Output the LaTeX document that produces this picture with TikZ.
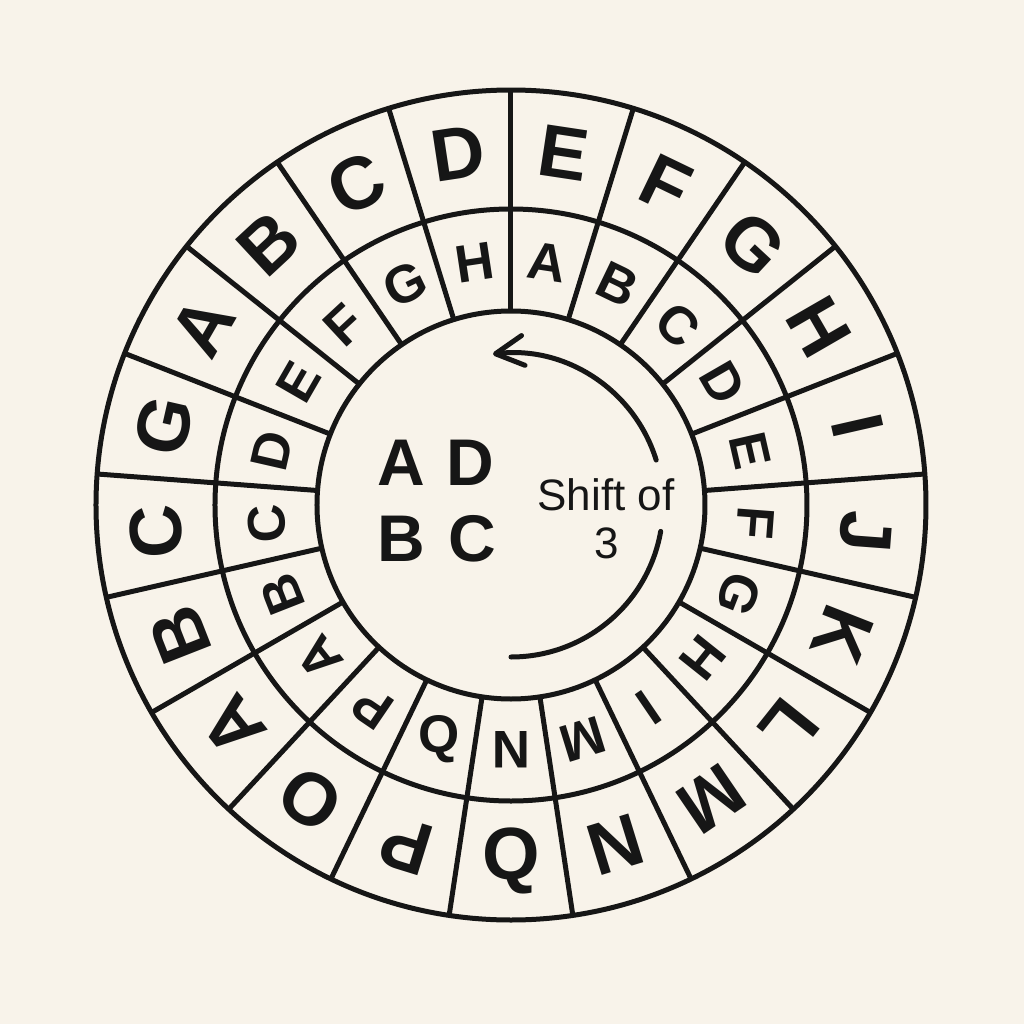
\documentclass[tikz,border=0pt]{standalone}
\usepackage{fontspec}
\setmainfont{Liberation Sans}
\usetikzlibrary{arrows.meta}
\definecolor{bg}{RGB}{248,243,234}
\definecolor{ink}{RGB}{22,22,22}
\begin{document}
\begin{tikzpicture}[x=0.5pt,y=0.5pt,
  ringline/.style={draw=ink,line width=2.5pt},
  outerletter/.style={font=\fontsize{37}{37}\selectfont\bfseries,text=ink,inner sep=0pt},
  innerletter/.style={font=\fontsize{26.5}{26.5}\selectfont\bfseries,text=ink,inner sep=0pt},
  centerletter/.style={font=\fontsize{33}{33}\selectfont\bfseries,text=ink,inner sep=0pt},
  shifttext/.style={font=\fontsize{22}{22}\selectfont,text=ink,inner sep=0pt}]
\fill[bg] (-511,-519) rectangle (513,505);
\useasboundingbox (-511,-519) rectangle (513,505);
% rings
\draw[ringline] (0,0) circle[radius=415];
\draw[ringline] (0,0) circle[radius=296];
\draw[ringline] (0,0) circle[radius=194];
% radial dividers
\foreach \k in {0,...,20} {
  \draw[ringline] ({90-\k*360/21}:194) -- ({90-\k*360/21}:415);
}
% outer ring letters
\foreach \L [count=\k from 0] in {E,F,G,H,I,J,K,L,M,N,Q,P,O,A,B,C,G,A,B,C,D} {
  \pgfmathsetmacro\t{90-(\k+0.5)*360/21}
  \pgfmathsetmacro\r{\k==10 ? 0 : \t-90}
  \node[outerletter, rotate=\r] (o\k) at (\t:356) {\L};
}
% inner ring letters
\foreach \L [count=\k from 0] in {A,B,C,D,E,F,G,H,I,M,N,Q,P,A,B,C,D,E,F,G,H} {
  \pgfmathsetmacro\t{90-(\k+0.5)*360/21}
  \pgfmathsetmacro\r{\k==11 ? 0 : \t-90}
  \node[innerletter, rotate=\r] (i\k) at (\t:245) {\L};
}
% centre
\node[centerletter] (cA) at (-110,42) {A};
\node[centerletter] (cD) at (-41,42) {D};
\node[centerletter] (cB) at (-110,-34) {B};
\node[centerletter] (cC) at (-39,-34) {C};
\node[shifttext] (shift) at (95,10) {Shift of};
\node[shifttext] (three) at (96,-38) {3};
% shift arrow
\draw[ringline, line cap=round] (-90:152) arc[start angle=-90, end angle=-10, radius=152];
\draw[ringline, line cap=round, -{Straight Barb[length=14pt,width=15pt,round]}] (17.2:152) arc[start angle=17.2, end angle=96.8, radius=152];
\end{tikzpicture}
\end{document}
